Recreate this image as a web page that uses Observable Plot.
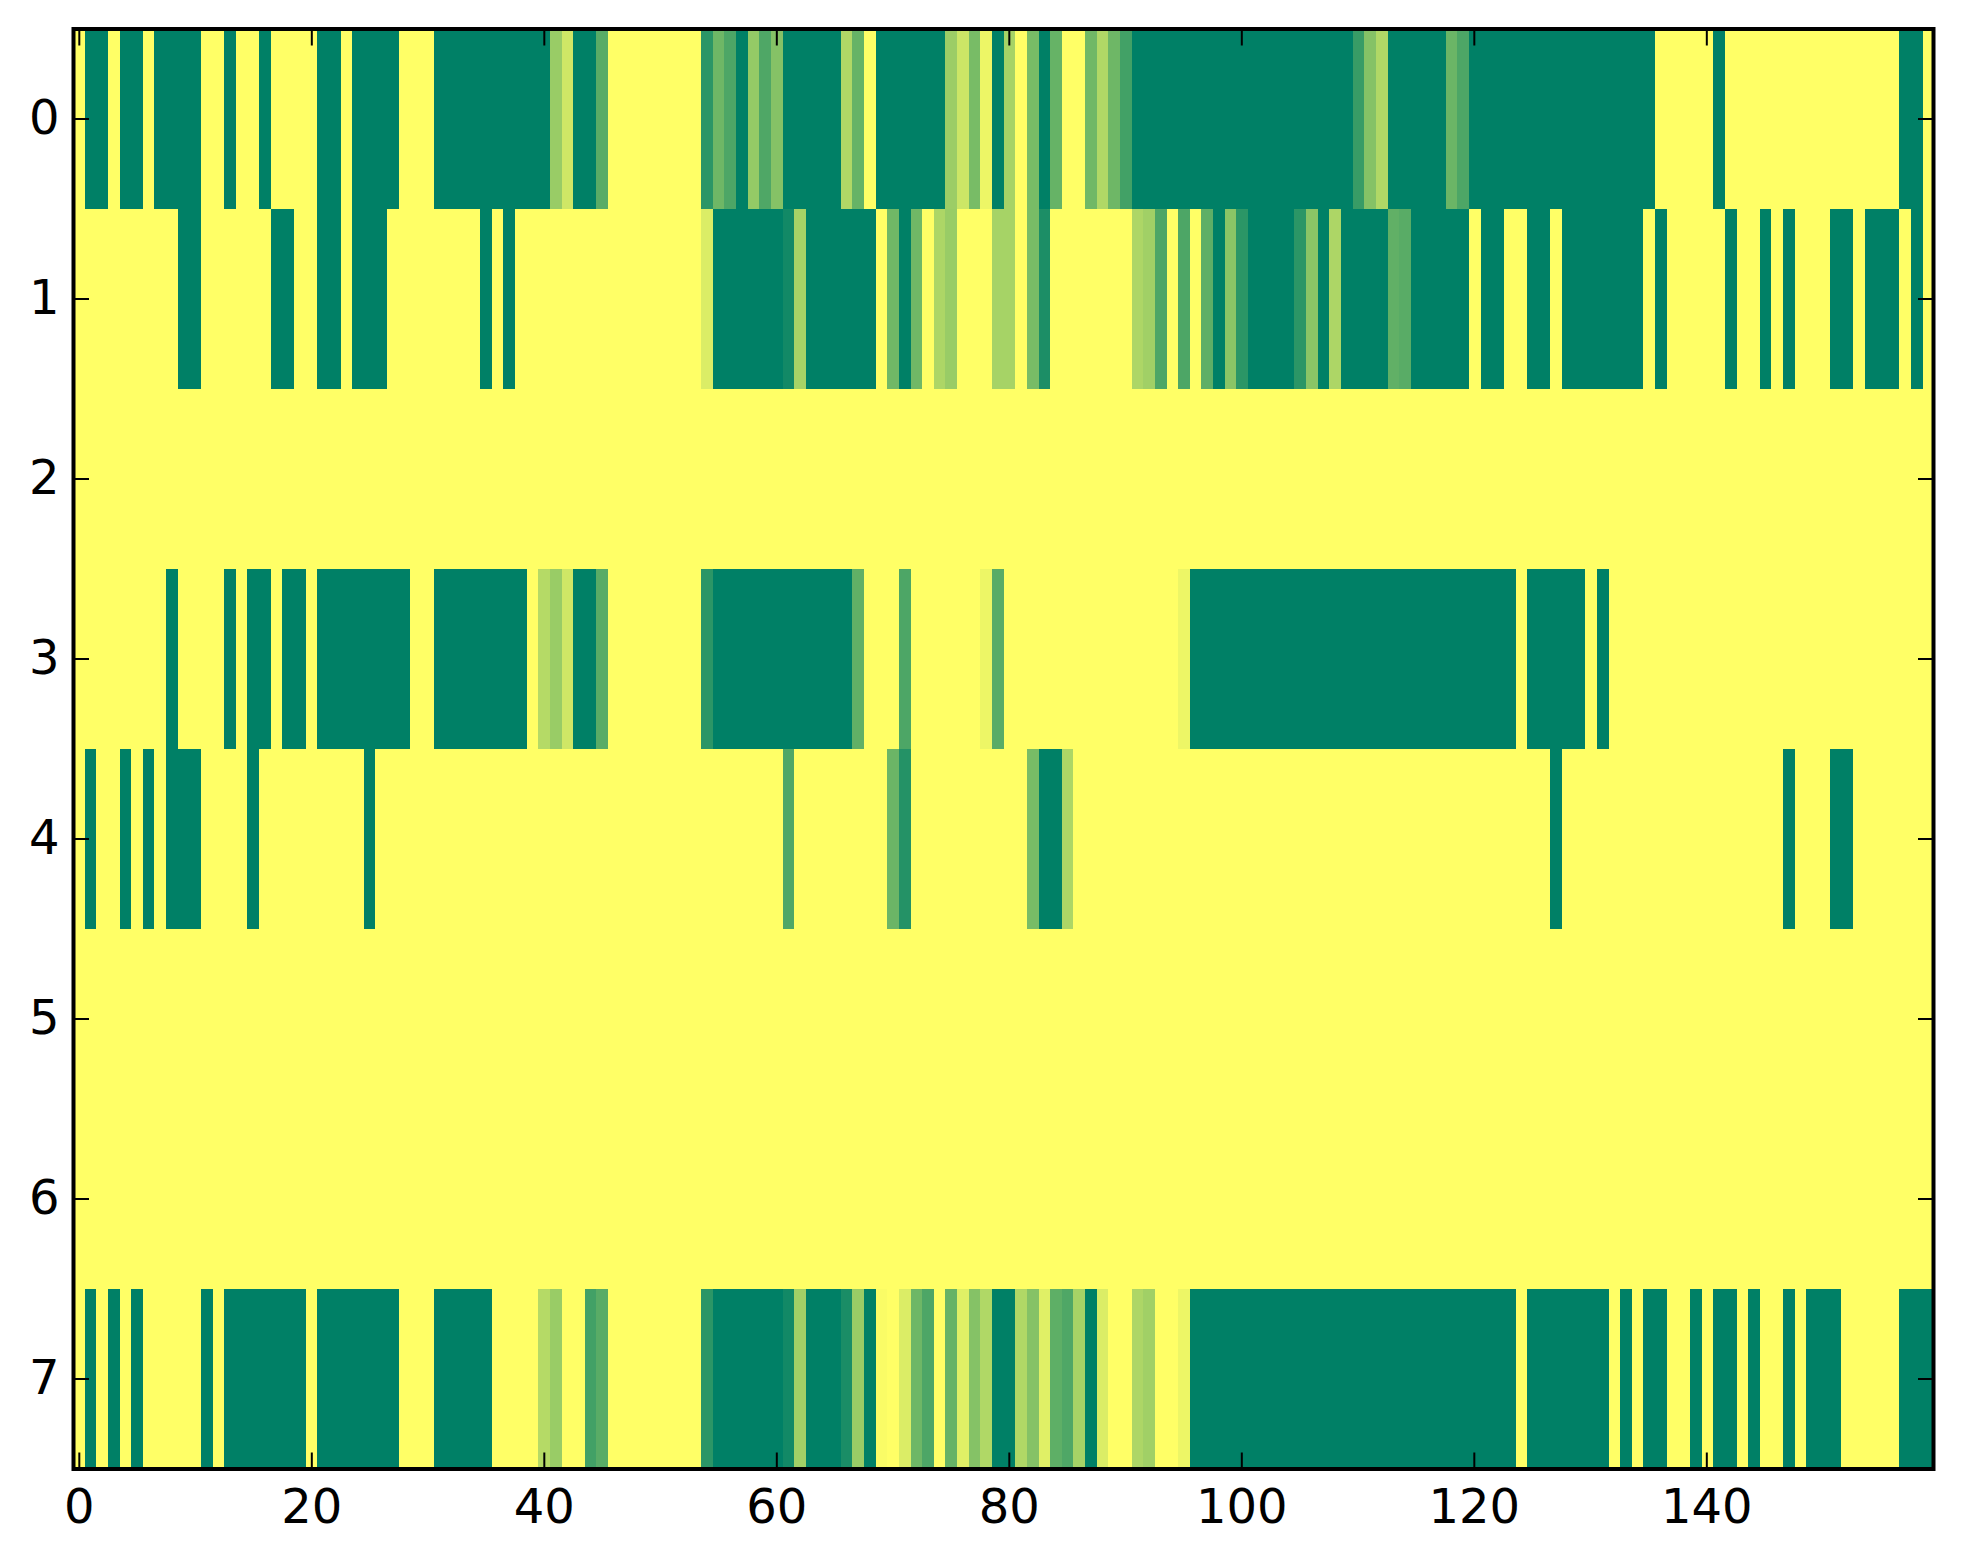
<!DOCTYPE html>
<html>
<head>
<meta charset="utf-8">
<script src="https://cdn.jsdelivr.net/npm/d3@7"></script>
<script src="https://cdn.jsdelivr.net/npm/@observablehq/plot@0.6"></script>
<style>
html,body{margin:0;padding:0;background:#fff;}
svg{display:block;}
</style>
</head>
<body>
<div id="chart"></div>
<script>
const row0 = [
0,1,1,0,1,1,0,1,1,1, 1,0,0,1,0,0,1,0,0,0, 0,1,1,0,1,1,1,1,0,0, 0,1,1,1,1,1,1,1,1,1,
1,.40,.19,1,1,.65,0,0,0,0, 0,0,0,0,.83,.57,.70,1,.42,.69, .48,1,1,1,1,1,.31,.60,0,1, 1,1,1,1,1,.39,.20,.53,.07,1,
.35,0,.53,1,.60,0,0,.56,.31,.57, .74,1,1,1,1,1,1,1,1,1, 1,1,1,1,1,1,1,1,1,1, .78,.48,.31,1,1,1,1,1,.58,.70,
1,1,1,1,1,1,1,1,1,1, 1,1,1,1,1,1,0,0,0,0, 0,1,0,0,0,0,0,0,0,0, 0,0,0,0,0,0,0,1,1,0];
const row1 = [
0,0,0,0,0,0,0,0,0,1, 1,0,0,0,0,0,0,1,1,0, 0,1,1,0,1,1,1,0,0,0, 0,0,0,0,0,1,0,1,0,0,
0,0,0,0,0,0,0,0,0,0, 0,0,0,0,.14,1,1,1,1,1, 1,.93,.35,1,1,1,1,1,1,0, .56,1,.56,0,.32,.40,0,0,0,.35,
.35,0,.53,.89,0,0,0,0,0,0, 0,.32,.37,.70,0,.70,0,.63,1,.46, .83,1,1,1,1,.83,.46,1,.32,1, 1,1,1,.62,.65,1,1,1,1,1,
0,1,1,0,0,1,1,0,1,1, 1,1,1,1,1,0,1,0,0,0, 0,0,1,0,0,1,0,1,0,0, 0,1,1,0,1,1,1,0,1,0];
const row2 = [
0,0,0,0,0,0,0,0,0,0, 0,0,0,0,0,0,0,0,0,0, 0,0,0,0,0,0,0,0,0,0, 0,0,0,0,0,0,0,0,0,0,
0,0,0,0,0,0,0,0,0,0, 0,0,0,0,0,0,0,0,0,0, 0,0,0,0,0,0,0,0,0,0, 0,0,0,0,0,0,0,0,0,0,
0,0,0,0,0,0,0,0,0,0, 0,0,0,0,0,0,0,0,0,0, 0,0,0,0,0,0,0,0,0,0, 0,0,0,0,0,0,0,0,0,0,
0,0,0,0,0,0,0,0,0,0, 0,0,0,0,0,0,0,0,0,0, 0,0,0,0,0,0,0,0,0,0, 0,0,0,0,0,0,0,0,0,0];
const row3 = [
0,0,0,0,0,0,0,0,1,0, 0,0,0,1,0,1,1,0,1,1, 0,1,1,1,1,1,1,1,1,0, 0,1,1,1,1,1,1,1,1,0,
.29,.40,.19,1,1,.65,0,0,0,0, 0,0,0,0,.83,1,1,1,1,1, 1,1,1,1,1,1,1,.62,0,0, 0,.70,0,0,0,0,0,0,.07,.65,
0,0,0,0,0,0,0,0,0,0, 0,0,0,0,0,.07,1,1,1,1, 1,1,1,1,1,1,1,1,1,1, 1,1,1,1,1,1,1,1,1,1,
1,1,1,1,0,1,1,1,1,1, 0,1,0,0,0,0,0,0,0,0, 0,0,0,0,0,0,0,0,0,0, 0,0,0,0,0,0,0,0,0,0];
const row4 = [
0,1,0,0,1,0,1,0,1,1, 1,0,0,0,0,1,0,0,0,0, 0,0,0,0,0,1,0,0,0,0, 0,0,0,0,0,0,0,0,0,0,
0,0,0,0,0,0,0,0,0,0, 0,0,0,0,0,0,0,0,0,0, 0,.69,0,0,0,0,0,0,0,0, .58,.86,0,0,0,0,0,0,0,0,
0,0,.53,1,1,.32,0,0,0,0, 0,0,0,0,0,0,0,0,0,0, 0,0,0,0,0,0,0,0,0,0, 0,0,0,0,0,0,0,0,0,0,
0,0,0,0,0,0,0,1,0,0, 0,0,0,0,0,0,0,0,0,0, 0,0,0,0,0,0,0,1,0,0, 0,1,1,0,0,0,0,0,0,0];
const row5 = [
0,0,0,0,0,0,0,0,0,0, 0,0,0,0,0,0,0,0,0,0, 0,0,0,0,0,0,0,0,0,0, 0,0,0,0,0,0,0,0,0,0,
0,0,0,0,0,0,0,0,0,0, 0,0,0,0,0,0,0,0,0,0, 0,0,0,0,0,0,0,0,0,0, 0,0,0,0,0,0,0,0,0,0,
0,0,0,0,0,0,0,0,0,0, 0,0,0,0,0,0,0,0,0,0, 0,0,0,0,0,0,0,0,0,0, 0,0,0,0,0,0,0,0,0,0,
0,0,0,0,0,0,0,0,0,0, 0,0,0,0,0,0,0,0,0,0, 0,0,0,0,0,0,0,0,0,0, 0,0,0,0,0,0,0,0,0,0];
const row6 = [
0,0,0,0,0,0,0,0,0,0, 0,0,0,0,0,0,0,0,0,0, 0,0,0,0,0,0,0,0,0,0, 0,0,0,0,0,0,0,0,0,0,
0,0,0,0,0,0,0,0,0,0, 0,0,0,0,0,0,0,0,0,0, 0,0,0,0,0,0,0,0,0,0, 0,0,0,0,0,0,0,0,0,0,
0,0,0,0,0,0,0,0,0,0, 0,0,0,0,0,0,0,0,0,0, 0,0,0,0,0,0,0,0,0,0, 0,0,0,0,0,0,0,0,0,0,
0,0,0,0,0,0,0,0,0,0, 0,0,0,0,0,0,0,0,0,0, 0,0,0,0,0,0,0,0,0,0, 0,0,0,0,0,0,0,0,0,0];
const row7 = [
0,1,0,1,0,1,0,0,0,0, 0,1,0,1,1,1,1,1,1,1, 0,1,1,1,1,1,1,1,0,0, 0,1,1,1,1,1,0,0,0,0,
.29,.40,0,0,.74,.65,0,0,0,0, 0,0,0,0,.83,1,1,1,1,1, 1,.93,.37,1,1,1,.90,.40,1,.02, 0,.14,.57,.70,0,.60,.12,.48,.31,1,
1,.31,.48,.12,.63,.69,.35,1,.14,0, 0,.32,.37,0,0,.07,1,1,1,1, 1,1,1,1,1,1,1,1,1,1, 1,1,1,1,1,1,1,1,1,1,
1,1,1,1,0,1,1,1,1,1, 1,1,0,1,0,1,1,0,0,1, 0,1,1,0,1,0,0,1,0,1, 1,1,0,0,0,0,0,1,1,1];

const rows = [row0, row1, row2, row3, row4, row5, row6, row7];
const xTicks = [0, 20, 40, 60, 80, 100, 120, 140];
const yTicks = [0, 1, 2, 3, 4, 5, 6, 7];
const cells = rows.flatMap((r, row) => r.map((v, col) => ({row, col, v})));

// The source image is drawn very slightly wider than the axes and clipped by them.
const imageStretch = 1.0007;
const fontFamily = "'DejaVu Sans'";
const fontSize = 48;

const chart = Plot.plot({
  width: 1963,
  height: 1564,
  marginLeft: 73,
  marginRight: 30,
  marginTop: 28.5,
  marginBottom: 95.5,
  style: {fontFamily, background: "#fff", color: "#000"},
  x: {domain: [-0.5, 159.5], label: null},
  y: {domain: [7.5, -0.5], label: null},
  color: {type: "linear", domain: [0, 1], range: ["#ffff66", "#008066"], interpolate: "rgb"},
  marks: [
    Plot.rect(cells, {
      x1: d => -0.5 + d.col * imageStretch, x2: d => -0.5 + (d.col + 1) * imageStretch,
      y1: d => d.row - 0.5, y2: d => d.row + 0.5,
      fill: "v", shapeRendering: "crispEdges", clip: "frame"
    }),
    Plot.axisX({anchor: "bottom", ticks: xTicks, tickSize: 0, tickPadding: 19.5, fontSize, label: null, tickFormat: d => String(d), fill: "#000"}),
    Plot.axisY({anchor: "left", ticks: yTicks, tickSize: 0, tickPadding: 14, fontSize, label: null, tickFormat: d => String(d), fill: "#000"}),
    Plot.axisX({anchor: "bottom", ticks: xTicks, tickSize: -16, strokeWidth: 2, stroke: "#000", text: null, label: null}),
    Plot.axisX({anchor: "top", ticks: xTicks, tickSize: -16, strokeWidth: 2, stroke: "#000", text: null, label: null}),
    Plot.axisY({anchor: "left", ticks: yTicks, tickSize: -16, strokeWidth: 2, stroke: "#000", text: null, label: null}),
    Plot.axisY({anchor: "right", ticks: yTicks, tickSize: -16, strokeWidth: 2, stroke: "#000", text: null, label: null}),
    Plot.frame({stroke: "#000", strokeWidth: 4})
  ]
});
document.getElementById("chart").append(chart);
</script>
</body>
</html>
